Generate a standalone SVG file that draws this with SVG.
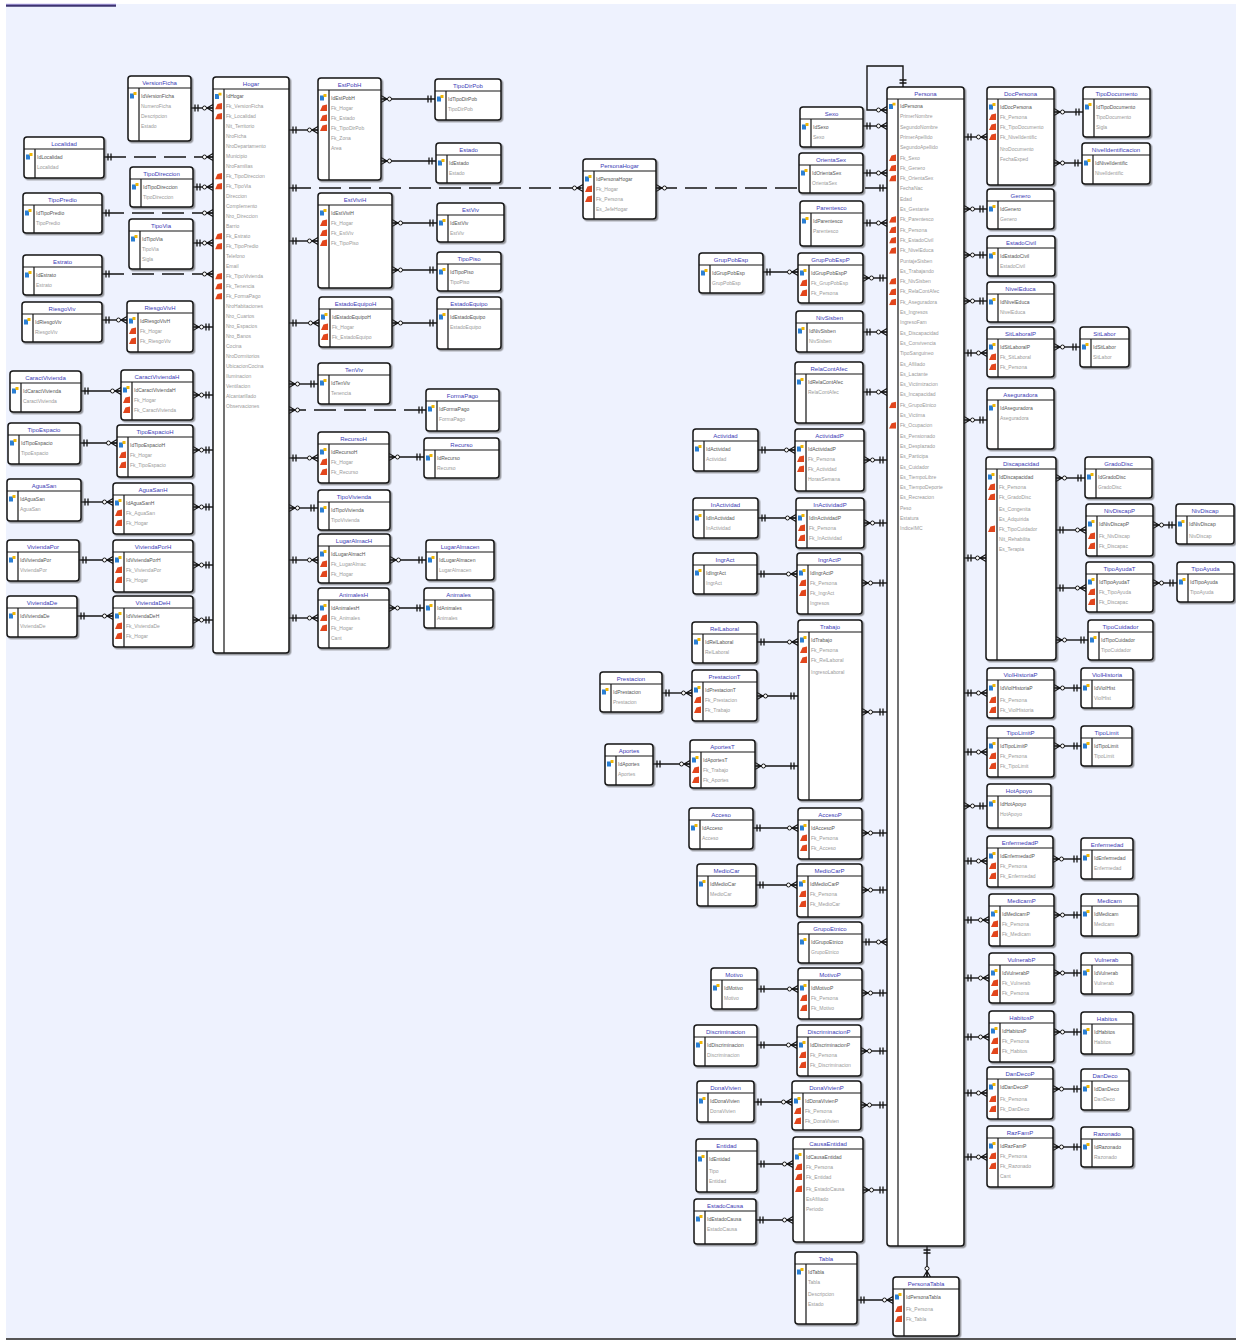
<svg xmlns="http://www.w3.org/2000/svg" xmlns:xlink="http://www.w3.org/1999/xlink" width="1236" height="1342" viewBox="0 0 1236 1342">
<defs>
<style>
.bx{fill:#fff;stroke:#151515;stroke-width:1.5;filter:url(#sh)}
.ln{stroke:#151515;stroke-width:1.2;fill:none}
.tt{font-family:"Liberation Sans",Arial,sans-serif;font-size:6px;fill:#3b3bb5;text-anchor:middle}
.fd{font-family:"Liberation Sans",Arial,sans-serif;font-size:5px;fill:#9a9a9a}
.pkt{font-family:"Liberation Sans",Arial,sans-serif;font-size:5px;fill:#555}
.c{stroke:#151515;stroke-width:1.4;fill:none;marker-start:url(#one);marker-end:url(#many)}
.d{stroke-dasharray:22 8}
</style>
<filter id="sh" x="-10%" y="-10%" width="130%" height="130%"><feDropShadow dx="1.5" dy="1.5" stdDeviation="0.6" flood-color="#444" flood-opacity="0.55"/></filter>
<symbol id="pk" viewBox="0 0 7 7"><rect x="0" y="1.5" width="4" height="5" fill="#2a7fd4"/><rect x="3.5" y="0" width="3" height="3" fill="#f2b705"/></symbol>
<symbol id="fk" viewBox="0 0 7 7"><path d="M0 7L2.5 1.5L7 0.5V7Z" fill="#e2461c"/></symbol>
<marker id="one" viewBox="-14 -5 15 10" refX="0" refY="0" markerWidth="15" markerHeight="10" orient="auto-start-reverse" markerUnits="userSpaceOnUse"><path d="M-4 -3.5V3.5M-7 -3.5V3.5" stroke="#151515" stroke-width="1.3" fill="none"/></marker>
<marker id="many" viewBox="-14 -5 15 10" refX="0" refY="0" markerWidth="15" markerHeight="10" orient="auto" markerUnits="userSpaceOnUse"><path d="M-6 0L0 -3.5M-6 0L0 3.5M-6 0H0" stroke="#151515" stroke-width="1.2" fill="none"/><circle cx="-8.5" cy="0" r="2" fill="#fff" stroke="#151515" stroke-width="1"/></marker>
</defs>
<rect x="0" y="0" width="1236" height="1342" fill="#fff"/>
<rect x="6" y="4" width="1230" height="1334" fill="#eef2fe"/>
<path d="M6 5.5H116" stroke="#3d3470" stroke-width="2.5"/>
<path d="M6 4.2H116" stroke="#a99be6" stroke-width="0.8"/>
<path d="M6 1339H1236" stroke="#555" stroke-width="2"/>

<g id="connectors">
<path class="c" d="M191 108H213"/>
<path class="c d" d="M104 157H213"/>
<path class="c" d="M193 187H213"/>
<path class="c d" d="M102 213H213"/>
<path class="c" d="M193 243H213"/>
<path class="c d" d="M102 274H213"/>
<path class="c" d="M102 320H127"/>
<path class="c" d="M213 327H193"/>
<path class="c" d="M81 391H121"/>
<path class="c" d="M213 395H193"/>
<path class="c" d="M80 443H117"/>
<path class="c" d="M213 450H193"/>
<path class="c" d="M81 502H113"/>
<path class="c" d="M213 507H193"/>
<path class="c" d="M79 560H113"/>
<path class="c" d="M213 565H193"/>
<path class="c" d="M77 616H113"/>
<path class="c" d="M213 620H193"/>
<path class="c" d="M289 130H318"/>
<path class="c" d="M435 99H381"/>
<path class="c" d="M436 161H381"/>
<path class="c d" d="M289 188H583"/>
<path class="c" d="M289 241H318"/>
<path class="c" d="M437 223H392"/>
<path class="c" d="M437 270H392"/>
<path class="c" d="M289 323H319"/>
<path class="c" d="M437 323H392"/>
<path class="c" d="M318 384H289"/>
<path class="c d" d="M426 410H289"/>
<path class="c" d="M289 458H318"/>
<path class="c" d="M424 457H389"/>
<path class="c" d="M318 508H289"/>
<path class="c" d="M289 560H318"/>
<path class="c" d="M426 560H390"/>
<path class="c" d="M289 618H318"/>
<path class="c" d="M424 608H389"/>
<path class="c d" d="M887 188H656"/>
<path class="c" d="M903 87V66H867V110H887"/>
<path class="c" d="M863 126H887"/>
<path class="c" d="M863 173H887"/>
<path class="c" d="M863 223H887"/>
<path class="c" d="M763 272H798"/>
<path class="c" d="M887 278H863"/>
<path class="c" d="M863 332H887"/>
<path class="c" d="M863 392H887"/>
<path class="c" d="M758 450H795"/>
<path class="c" d="M887 460H864"/>
<path class="c" d="M758 518H796"/>
<path class="c" d="M887 523H864"/>
<path class="c" d="M757 574H797"/>
<path class="c" d="M887 583H862"/>
<path class="c" d="M757 642H798"/>
<path class="c" d="M662 693H692"/>
<path class="c" d="M798 696H757"/>
<path class="c" d="M653 764H690"/>
<path class="c" d="M798 766H755"/>
<path class="c" d="M887 712H862"/>
<path class="c" d="M753 828H798"/>
<path class="c" d="M887 833H862"/>
<path class="c" d="M756 885H797"/>
<path class="c" d="M887 890H862"/>
<path class="c" d="M862 942H887"/>
<path class="c" d="M757 989H798"/>
<path class="c" d="M887 993H862"/>
<path class="c" d="M757 1045H797"/>
<path class="c" d="M887 1051H861"/>
<path class="c" d="M754 1102H792"/>
<path class="c" d="M887 1105H861"/>
<path class="c" d="M757 1164H793"/>
<path class="c" d="M756 1220H793"/>
<path class="c" d="M887 1190H863"/>
<path class="c" d="M857 1300H893"/>
<path class="c" d="M927 1246V1277"/>
<path class="c" d="M964 137H987"/>
<path class="c" d="M1083 112H1054"/>
<path class="c" d="M1082 163H1054"/>
<path class="c" d="M987 209H964"/>
<path class="c" d="M987 255H964"/>
<path class="c" d="M987 301H964"/>
<path class="c" d="M964 353H987"/>
<path class="c" d="M1080 347H1054"/>
<path class="c" d="M987 420H964"/>
<path class="c" d="M964 558H986"/>
<path class="c" d="M1085 478H1056"/>
<path class="c" d="M1056 530H1086"/>
<path class="c" d="M1176 525H1153"/>
<path class="c" d="M1056 588H1086"/>
<path class="c" d="M1177 583H1153"/>
<path class="c" d="M1088 640H1056"/>
<path class="c" d="M964 693H987"/>
<path class="c" d="M1081 688H1054"/>
<path class="c" d="M964 752H987"/>
<path class="c" d="M1081 746H1054"/>
<path class="c" d="M987 806H964"/>
<path class="c" d="M964 861H987"/>
<path class="c" d="M1081 859H1053"/>
<path class="c" d="M964 920H989"/>
<path class="c" d="M1081 915H1054"/>
<path class="c" d="M964 978H989"/>
<path class="c" d="M1081 973H1054"/>
<path class="c" d="M964 1037H989"/>
<path class="c" d="M1081 1032H1054"/>
<path class="c" d="M964 1093H987"/>
<path class="c" d="M1081 1089H1053"/>
<path class="c" d="M964 1157H987"/>
<path class="c" d="M1081 1147H1053"/>
</g>

<g id="n-VersionFicha" transform="translate(128,76)"><rect class="bx" width="63" height="65" rx="3"/><path class="ln" d="M0 12H63M11 12V65"/><text class="tt" x="31.5" y="9">VersionFicha</text><use href="#pk" x="2" y="16" width="7" height="7"/><text class="pkt" x="13" y="22">IdVersionFicha</text><text class="fd" x="13" y="32">NumeroFicha</text><text class="fd" x="13" y="42">Descripcion</text><text class="fd" x="13" y="52">Estado</text></g>
<g id="n-Localidad" transform="translate(24,137)"><rect class="bx" width="80" height="41" rx="3"/><path class="ln" d="M0 12H80M11 12V41"/><text class="tt" x="40" y="9">Localidad</text><use href="#pk" x="2" y="16" width="7" height="7"/><text class="pkt" x="13" y="22">IdLocalidad</text><text class="fd" x="13" y="32">Localidad</text></g>
<g id="n-TipoDireccion" transform="translate(130,167)"><rect class="bx" width="63" height="40" rx="3"/><path class="ln" d="M0 12H63M11 12V40"/><text class="tt" x="31.5" y="9">TipoDireccion</text><use href="#pk" x="2" y="16" width="7" height="7"/><text class="pkt" x="13" y="22">IdTipoDireccion</text><text class="fd" x="13" y="32">TipoDireccion</text></g>
<g id="n-TipoPredio" transform="translate(23,193)"><rect class="bx" width="79" height="40" rx="3"/><path class="ln" d="M0 12H79M11 12V40"/><text class="tt" x="39.5" y="9">TipoPredio</text><use href="#pk" x="2" y="16" width="7" height="7"/><text class="pkt" x="13" y="22">IdTipoPredio</text><text class="fd" x="13" y="32">TipoPredio</text></g>
<g id="n-TipoVia" transform="translate(129,219)"><rect class="bx" width="64" height="50" rx="3"/><path class="ln" d="M0 12H64M11 12V50"/><text class="tt" x="32" y="9">TipoVia</text><use href="#pk" x="2" y="16" width="7" height="7"/><text class="pkt" x="13" y="22">IdTipoVia</text><text class="fd" x="13" y="32">TipoVia</text><text class="fd" x="13" y="42">Sigla</text></g>
<g id="n-Estrato" transform="translate(23,255)"><rect class="bx" width="79" height="40" rx="3"/><path class="ln" d="M0 12H79M11 12V40"/><text class="tt" x="39.5" y="9">Estrato</text><use href="#pk" x="2" y="16" width="7" height="7"/><text class="pkt" x="13" y="22">IdEstrato</text><text class="fd" x="13" y="32">Estrato</text></g>
<g id="n-Riesgo" transform="translate(22,302)"><rect class="bx" width="80" height="40" rx="3"/><path class="ln" d="M0 12H80M11 12V40"/><text class="tt" x="40" y="9">RiesgoViv</text><use href="#pk" x="2" y="16" width="7" height="7"/><text class="pkt" x="13" y="22">IdRiesgoViv</text><text class="fd" x="13" y="32">RiesgoViv</text></g>
<g id="n-RiesgoVivH" transform="translate(127,301)"><rect class="bx" width="66" height="51" rx="3"/><path class="ln" d="M0 12H66M11 12V51"/><text class="tt" x="33" y="9">RiesgoVivH</text><use href="#pk" x="2" y="16" width="7" height="7"/><text class="pkt" x="13" y="22">IdRiesgoVivH</text><use href="#fk" x="2" y="26" width="7" height="7"/><text class="fd" x="13" y="32">Fk_Hogar</text><use href="#fk" x="2" y="36" width="7" height="7"/><text class="fd" x="13" y="42">Fk_RiesgoViv</text></g>
<g id="n-CaractVivienda" transform="translate(10,371)"><rect class="bx" width="71" height="41" rx="3"/><path class="ln" d="M0 12H71M11 12V41"/><text class="tt" x="35.5" y="9">CaractVivienda</text><use href="#pk" x="2" y="16" width="7" height="7"/><text class="pkt" x="13" y="22">IdCaractVivienda</text><text class="fd" x="13" y="32">CaractVivienda</text></g>
<g id="n-CaractViviendaH" transform="translate(121,370)"><rect class="bx" width="72" height="50" rx="3"/><path class="ln" d="M0 12H72M11 12V50"/><text class="tt" x="36" y="9">CaractViviendaH</text><use href="#pk" x="2" y="16" width="7" height="7"/><text class="pkt" x="13" y="22">IdCaractViviendaH</text><use href="#fk" x="2" y="26" width="7" height="7"/><text class="fd" x="13" y="32">Fk_Hogar</text><use href="#fk" x="2" y="36" width="7" height="7"/><text class="fd" x="13" y="42">Fk_CaractVivienda</text></g>
<g id="n-TipoEspacio" transform="translate(8,423)"><rect class="bx" width="72" height="41" rx="3"/><path class="ln" d="M0 12H72M11 12V41"/><text class="tt" x="36" y="9">TipoEspacio</text><use href="#pk" x="2" y="16" width="7" height="7"/><text class="pkt" x="13" y="22">IdTipoEspacio</text><text class="fd" x="13" y="32">TipoEspacio</text></g>
<g id="n-TipoEspacioH" transform="translate(117,425)"><rect class="bx" width="76" height="52" rx="3"/><path class="ln" d="M0 12H76M11 12V52"/><text class="tt" x="38" y="9">TipoEspacioH</text><use href="#pk" x="2" y="16" width="7" height="7"/><text class="pkt" x="13" y="22">IdTipoEspacioH</text><use href="#fk" x="2" y="26" width="7" height="7"/><text class="fd" x="13" y="32">Fk_Hogar</text><use href="#fk" x="2" y="36" width="7" height="7"/><text class="fd" x="13" y="42">Fk_TipoEspacio</text></g>
<g id="n-AguaSan" transform="translate(7,479)"><rect class="bx" width="74" height="42" rx="3"/><path class="ln" d="M0 12H74M11 12V42"/><text class="tt" x="37" y="9">AguaSan</text><use href="#pk" x="2" y="16" width="7" height="7"/><text class="pkt" x="13" y="22">IdAguaSan</text><text class="fd" x="13" y="32">AguaSan</text></g>
<g id="n-AguaSanH" transform="translate(113,483)"><rect class="bx" width="80" height="51" rx="3"/><path class="ln" d="M0 12H80M11 12V51"/><text class="tt" x="40" y="9">AguaSanH</text><use href="#pk" x="2" y="16" width="7" height="7"/><text class="pkt" x="13" y="22">IdAguaSanH</text><use href="#fk" x="2" y="26" width="7" height="7"/><text class="fd" x="13" y="32">Fk_AguaSan</text><use href="#fk" x="2" y="36" width="7" height="7"/><text class="fd" x="13" y="42">Fk_Hogar</text></g>
<g id="n-ViviendaPor" transform="translate(7,540)"><rect class="bx" width="72" height="41" rx="3"/><path class="ln" d="M0 12H72M11 12V41"/><text class="tt" x="36" y="9">ViviendaPor</text><use href="#pk" x="2" y="16" width="7" height="7"/><text class="pkt" x="13" y="22">IdViviendaPor</text><text class="fd" x="13" y="32">ViviendaPor</text></g>
<g id="n-ViviendaPorH" transform="translate(113,540)"><rect class="bx" width="80" height="52" rx="3"/><path class="ln" d="M0 12H80M11 12V52"/><text class="tt" x="40" y="9">ViviendaPorH</text><use href="#pk" x="2" y="16" width="7" height="7"/><text class="pkt" x="13" y="22">IdViviendaPorH</text><use href="#fk" x="2" y="26" width="7" height="7"/><text class="fd" x="13" y="32">Fk_ViviendaPor</text><use href="#fk" x="2" y="36" width="7" height="7"/><text class="fd" x="13" y="42">Fk_Hogar</text></g>
<g id="n-ViviendaDe" transform="translate(7,596)"><rect class="bx" width="70" height="41" rx="3"/><path class="ln" d="M0 12H70M11 12V41"/><text class="tt" x="35" y="9">ViviendaDe</text><use href="#pk" x="2" y="16" width="7" height="7"/><text class="pkt" x="13" y="22">IdViviendaDe</text><text class="fd" x="13" y="32">ViviendaDe</text></g>
<g id="n-ViviendaDeH" transform="translate(113,596)"><rect class="bx" width="80" height="51" rx="3"/><path class="ln" d="M0 12H80M11 12V51"/><text class="tt" x="40" y="9">ViviendaDeH</text><use href="#pk" x="2" y="16" width="7" height="7"/><text class="pkt" x="13" y="22">IdViviendaDeH</text><use href="#fk" x="2" y="26" width="7" height="7"/><text class="fd" x="13" y="32">Fk_ViviendaDe</text><use href="#fk" x="2" y="36" width="7" height="7"/><text class="fd" x="13" y="42">Fk_Hogar</text></g>

<g id="n-Hogar" transform="translate(213,77)"><rect class="bx" width="76" height="576" rx="3"/><path class="ln" d="M0 12H76M11 12V576"/><text class="tt" x="38" y="9">Hogar</text>
<use href="#pk" x="2" y="15.5" width="7" height="7"/><text class="pkt" x="13" y="21">IdHogar</text>
<use href="#fk" x="2" y="25.5" width="7" height="7"/><text class="fd" x="13" y="31">Fk_VersionFicha</text>
<use href="#fk" x="2" y="35.5" width="7" height="7"/><text class="fd" x="13" y="41">Fk_Localidad</text>
<text class="fd" x="13" y="51">Nit_Territorio</text>
<text class="fd" x="13" y="61">NroFicha</text>
<text class="fd" x="13" y="71">NroDepartamento</text>
<text class="fd" x="13" y="81">Municipio</text>
<text class="fd" x="13" y="91">NroFamilias</text>
<use href="#fk" x="2" y="95.5" width="7" height="7"/><text class="fd" x="13" y="101">Fk_TipoDireccion</text>
<use href="#fk" x="2" y="105.5" width="7" height="7"/><text class="fd" x="13" y="111">Fk_TipoVia</text>
<text class="fd" x="13" y="121">Direccion</text>
<text class="fd" x="13" y="131">Complemento</text>
<text class="fd" x="13" y="141">Nro_Direccion</text>
<text class="fd" x="13" y="151">Barrio</text>
<use href="#fk" x="2" y="155.5" width="7" height="7"/><text class="fd" x="13" y="161">Fk_Estrato</text>
<use href="#fk" x="2" y="165.5" width="7" height="7"/><text class="fd" x="13" y="171">Fk_TipoPredio</text>
<text class="fd" x="13" y="181">Telefono</text>
<text class="fd" x="13" y="191">Email</text>
<use href="#fk" x="2" y="195.5" width="7" height="7"/><text class="fd" x="13" y="201">Fk_TipoVivienda</text>
<use href="#fk" x="2" y="205.5" width="7" height="7"/><text class="fd" x="13" y="211">Fk_Tenencia</text>
<use href="#fk" x="2" y="215.5" width="7" height="7"/><text class="fd" x="13" y="221">Fk_FormaPago</text>
<text class="fd" x="13" y="231">NroHabitaciones</text>
<text class="fd" x="13" y="241">Nro_Cuartos</text>
<text class="fd" x="13" y="251">Nro_Espacios</text>
<text class="fd" x="13" y="261">Nro_Banos</text>
<text class="fd" x="13" y="271">Cocina</text>
<text class="fd" x="13" y="281">NroDormitorios</text>
<text class="fd" x="13" y="291">UbicacionCocina</text>
<text class="fd" x="13" y="301">Iluminacion</text>
<text class="fd" x="13" y="311">Ventilacion</text>
<text class="fd" x="13" y="321">Alcantarillado</text>
<text class="fd" x="13" y="331">Observaciones</text></g>

<g id="n-EstPobH" transform="translate(318,78)"><rect class="bx" width="63" height="102" rx="3"/><path class="ln" d="M0 12H63M11 12V102"/><text class="tt" x="31.5" y="9">EstPobH</text><use href="#pk" x="2" y="16" width="7" height="7"/><text class="pkt" x="13" y="22">IdEstPobH</text><use href="#fk" x="2" y="26" width="7" height="7"/><text class="fd" x="13" y="32">Fk_Hogar</text><use href="#fk" x="2" y="36" width="7" height="7"/><text class="fd" x="13" y="42">Fk_Estado</text><use href="#fk" x="2" y="46" width="7" height="7"/><text class="fd" x="13" y="52">Fk_TipoDirPob</text><text class="fd" x="13" y="62">Fk_Zona</text><text class="fd" x="13" y="72">Area</text></g>
<g id="n-TipoDirPob" transform="translate(435,79)"><rect class="bx" width="66" height="41" rx="3"/><path class="ln" d="M0 12H66M11 12V41"/><text class="tt" x="33" y="9">TipoDirPob</text><use href="#pk" x="2" y="16" width="7" height="7"/><text class="pkt" x="13" y="22">IdTipoDirPob</text><text class="fd" x="13" y="32">TipoDirPob</text></g>
<g id="n-Estado" transform="translate(436,143)"><rect class="bx" width="65" height="40" rx="3"/><path class="ln" d="M0 12H65M11 12V40"/><text class="tt" x="32.5" y="9">Estado</text><use href="#pk" x="2" y="16" width="7" height="7"/><text class="pkt" x="13" y="22">IdEstado</text><text class="fd" x="13" y="32">Estado</text></g>
<g id="n-EstViviH" transform="translate(318,193)"><rect class="bx" width="74" height="95" rx="3"/><path class="ln" d="M0 12H74M11 12V95"/><text class="tt" x="37" y="9">EstViviH</text><use href="#pk" x="2" y="16" width="7" height="7"/><text class="pkt" x="13" y="22">IdEstViviH</text><use href="#fk" x="2" y="26" width="7" height="7"/><text class="fd" x="13" y="32">Fk_Hogar</text><use href="#fk" x="2" y="36" width="7" height="7"/><text class="fd" x="13" y="42">Fk_EstViv</text><use href="#fk" x="2" y="46" width="7" height="7"/><text class="fd" x="13" y="52">Fk_TipoPiso</text></g>
<g id="n-EstViv" transform="translate(437,203)"><rect class="bx" width="67" height="39" rx="3"/><path class="ln" d="M0 12H67M11 12V39"/><text class="tt" x="33.5" y="9">EstViv</text><use href="#pk" x="2" y="16" width="7" height="7"/><text class="pkt" x="13" y="22">IdEstViv</text><text class="fd" x="13" y="32">EstViv</text></g>
<g id="n-TipoPiso" transform="translate(437,252)"><rect class="bx" width="64" height="39" rx="3"/><path class="ln" d="M0 12H64M11 12V39"/><text class="tt" x="32" y="9">TipoPiso</text><use href="#pk" x="2" y="16" width="7" height="7"/><text class="pkt" x="13" y="22">IdTipoPiso</text><text class="fd" x="13" y="32">TipoPiso</text></g>
<g id="n-EstadoEquipoH" transform="translate(319,297)"><rect class="bx" width="73" height="50" rx="3"/><path class="ln" d="M0 12H73M11 12V50"/><text class="tt" x="36.5" y="9">EstadoEquipoH</text><use href="#pk" x="2" y="16" width="7" height="7"/><text class="pkt" x="13" y="22">IdEstadoEquipoH</text><use href="#fk" x="2" y="26" width="7" height="7"/><text class="fd" x="13" y="32">Fk_Hogar</text><use href="#fk" x="2" y="36" width="7" height="7"/><text class="fd" x="13" y="42">Fk_EstadoEquipo</text></g>
<g id="n-EstadoEquipo" transform="translate(437,297)"><rect class="bx" width="64" height="52" rx="3"/><path class="ln" d="M0 12H64M11 12V52"/><text class="tt" x="32" y="9">EstadoEquipo</text><use href="#pk" x="2" y="16" width="7" height="7"/><text class="pkt" x="13" y="22">IdEstadoEquipo</text><text class="fd" x="13" y="32">EstadoEquipo</text></g>
<g id="n-TenViv" transform="translate(318,363)"><rect class="bx" width="72" height="41" rx="3"/><path class="ln" d="M0 12H72M11 12V41"/><text class="tt" x="36" y="9">TenViv</text><use href="#pk" x="2" y="16" width="7" height="7"/><text class="pkt" x="13" y="22">IdTenViv</text><text class="fd" x="13" y="32">Tenencia</text></g>
<g id="n-FormaPago" transform="translate(426,389)"><rect class="bx" width="73" height="42" rx="3"/><path class="ln" d="M0 12H73M11 12V42"/><text class="tt" x="36.5" y="9">FormaPago</text><use href="#pk" x="2" y="16" width="7" height="7"/><text class="pkt" x="13" y="22">IdFormaPago</text><text class="fd" x="13" y="32">FormaPago</text></g>
<g id="n-RecursoH" transform="translate(318,432)"><rect class="bx" width="71" height="51" rx="3"/><path class="ln" d="M0 12H71M11 12V51"/><text class="tt" x="35.5" y="9">RecursoH</text><use href="#pk" x="2" y="16" width="7" height="7"/><text class="pkt" x="13" y="22">IdRecursoH</text><use href="#fk" x="2" y="26" width="7" height="7"/><text class="fd" x="13" y="32">Fk_Hogar</text><use href="#fk" x="2" y="36" width="7" height="7"/><text class="fd" x="13" y="42">Fk_Recurso</text></g>
<g id="n-Recurso" transform="translate(424,438)"><rect class="bx" width="75" height="40" rx="3"/><path class="ln" d="M0 12H75M11 12V40"/><text class="tt" x="37.5" y="9">Recurso</text><use href="#pk" x="2" y="16" width="7" height="7"/><text class="pkt" x="13" y="22">IdRecurso</text><text class="fd" x="13" y="32">Recurso</text></g>
<g id="n-TipoVivienda" transform="translate(318,490)"><rect class="bx" width="72" height="40" rx="3"/><path class="ln" d="M0 12H72M11 12V40"/><text class="tt" x="36" y="9">TipoVivienda</text><use href="#pk" x="2" y="16" width="7" height="7"/><text class="pkt" x="13" y="22">IdTipoVivienda</text><text class="fd" x="13" y="32">TipoVivienda</text></g>
<g id="n-LugarAlmacH" transform="translate(318,534)"><rect class="bx" width="72" height="49" rx="3"/><path class="ln" d="M0 12H72M11 12V49"/><text class="tt" x="36" y="9">LugarAlmacH</text><use href="#pk" x="2" y="16" width="7" height="7"/><text class="pkt" x="13" y="22">IdLugarAlmacH</text><use href="#fk" x="2" y="26" width="7" height="7"/><text class="fd" x="13" y="32">Fk_LugarAlmac</text><use href="#fk" x="2" y="36" width="7" height="7"/><text class="fd" x="13" y="42">Fk_Hogar</text></g>
<g id="n-LugarAlmac" transform="translate(426,540)"><rect class="bx" width="68" height="40" rx="3"/><path class="ln" d="M0 12H68M11 12V40"/><text class="tt" x="34" y="9">LugarAlmacen</text><use href="#pk" x="2" y="16" width="7" height="7"/><text class="pkt" x="13" y="22">IdLugarAlmacen</text><text class="fd" x="13" y="32">LugarAlmacen</text></g>
<g id="n-AnimalesH" transform="translate(318,588)"><rect class="bx" width="71" height="60" rx="3"/><path class="ln" d="M0 12H71M11 12V60"/><text class="tt" x="35.5" y="9">AnimalesH</text><use href="#pk" x="2" y="16" width="7" height="7"/><text class="pkt" x="13" y="22">IdAnimalesH</text><use href="#fk" x="2" y="26" width="7" height="7"/><text class="fd" x="13" y="32">Fk_Animales</text><use href="#fk" x="2" y="36" width="7" height="7"/><text class="fd" x="13" y="42">Fk_Hogar</text><text class="fd" x="13" y="52">Cant</text></g>
<g id="n-Animales" transform="translate(424,588)"><rect class="bx" width="69" height="40" rx="3"/><path class="ln" d="M0 12H69M11 12V40"/><text class="tt" x="34.5" y="9">Animales</text><use href="#pk" x="2" y="16" width="7" height="7"/><text class="pkt" x="13" y="22">IdAnimales</text><text class="fd" x="13" y="32">Animales</text></g>

<g id="n-PersonaHogar" transform="translate(583,159)"><rect class="bx" width="73" height="60" rx="3"/><path class="ln" d="M0 12H73M11 12V60"/><text class="tt" x="36.5" y="9">PersonaHogar</text><use href="#pk" x="2" y="16" width="7" height="7"/><text class="pkt" x="13" y="22">IdPersonaHogar</text><use href="#fk" x="2" y="26" width="7" height="7"/><text class="fd" x="13" y="32">Fk_Hogar</text><use href="#fk" x="2" y="36" width="7" height="7"/><text class="fd" x="13" y="42">Fk_Persona</text><text class="fd" x="13" y="52">Es_JefeHogar</text></g>

<g id="n-Sexo" transform="translate(800,107)"><rect class="bx" width="63" height="40" rx="3"/><path class="ln" d="M0 12H63M11 12V40"/><text class="tt" x="31.5" y="9">Sexo</text><use href="#pk" x="2" y="16" width="7" height="7"/><text class="pkt" x="13" y="22">IdSexo</text><text class="fd" x="13" y="32">Sexo</text></g>
<g id="n-OrientaSex" transform="translate(799,153)"><rect class="bx" width="64" height="40" rx="3"/><path class="ln" d="M0 12H64M11 12V40"/><text class="tt" x="32" y="9">OrientaSex</text><use href="#pk" x="2" y="16" width="7" height="7"/><text class="pkt" x="13" y="22">IdOrientaSex</text><text class="fd" x="13" y="32">OrientaSex</text></g>
<g id="n-Parentesco" transform="translate(800,201)"><rect class="bx" width="63" height="45" rx="3"/><path class="ln" d="M0 12H63M11 12V45"/><text class="tt" x="31.5" y="9">Parentesco</text><use href="#pk" x="2" y="16" width="7" height="7"/><text class="pkt" x="13" y="22">IdParentesco</text><text class="fd" x="13" y="32">Parentesco</text></g>
<g id="n-GrupPobEsp" transform="translate(699,253)"><rect class="bx" width="64" height="40" rx="3"/><path class="ln" d="M0 12H64M11 12V40"/><text class="tt" x="32" y="9">GrupPobEsp</text><use href="#pk" x="2" y="16" width="7" height="7"/><text class="pkt" x="13" y="22">IdGrupPobEsp</text><text class="fd" x="13" y="32">GrupPobEsp</text></g>
<g id="n-GrupPobEspP" transform="translate(798,253)"><rect class="bx" width="65" height="50" rx="3"/><path class="ln" d="M0 12H65M11 12V50"/><text class="tt" x="32.5" y="9">GrupPobEspP</text><use href="#pk" x="2" y="16" width="7" height="7"/><text class="pkt" x="13" y="22">IdGrupPobEspP</text><use href="#fk" x="2" y="26" width="7" height="7"/><text class="fd" x="13" y="32">Fk_GrupPobEsp</text><use href="#fk" x="2" y="36" width="7" height="7"/><text class="fd" x="13" y="42">Fk_Persona</text></g>
<g id="n-NivSisben" transform="translate(796,311)"><rect class="bx" width="67" height="41" rx="3"/><path class="ln" d="M0 12H67M11 12V41"/><text class="tt" x="33.5" y="9">NivSisben</text><use href="#pk" x="2" y="16" width="7" height="7"/><text class="pkt" x="13" y="22">IdNivSisben</text><text class="fd" x="13" y="32">NivSisben</text></g>
<g id="n-RelaContAfec" transform="translate(795,362)"><rect class="bx" width="68" height="61" rx="3"/><path class="ln" d="M0 12H68M11 12V61"/><text class="tt" x="34" y="9">RelaContAfec</text><use href="#pk" x="2" y="16" width="7" height="7"/><text class="pkt" x="13" y="22">IdRelaContAfec</text><text class="fd" x="13" y="32">RelaContAfec</text></g>
<g id="n-Actividad" transform="translate(693,429)"><rect class="bx" width="65" height="42" rx="3"/><path class="ln" d="M0 12H65M11 12V42"/><text class="tt" x="32.5" y="9">Actividad</text><use href="#pk" x="2" y="16" width="7" height="7"/><text class="pkt" x="13" y="22">IdActividad</text><text class="fd" x="13" y="32">Actividad</text></g>
<g id="n-ActividadP" transform="translate(795,429)"><rect class="bx" width="69" height="62" rx="3"/><path class="ln" d="M0 12H69M11 12V62"/><text class="tt" x="34.5" y="9">ActividadP</text><use href="#pk" x="2" y="16" width="7" height="7"/><text class="pkt" x="13" y="22">IdActividadP</text><use href="#fk" x="2" y="26" width="7" height="7"/><text class="fd" x="13" y="32">Fk_Persona</text><use href="#fk" x="2" y="36" width="7" height="7"/><text class="fd" x="13" y="42">Fk_Actividad</text><text class="fd" x="13" y="52">HorasSemana</text></g>
<g id="n-InActividad" transform="translate(693,498)"><rect class="bx" width="65" height="40" rx="3"/><path class="ln" d="M0 12H65M11 12V40"/><text class="tt" x="32.5" y="9">InActividad</text><use href="#pk" x="2" y="16" width="7" height="7"/><text class="pkt" x="13" y="22">IdInActividad</text><text class="fd" x="13" y="32">InActividad</text></g>
<g id="n-InActividadP" transform="translate(796,498)"><rect class="bx" width="68" height="50" rx="3"/><path class="ln" d="M0 12H68M11 12V50"/><text class="tt" x="34" y="9">InActividadP</text><use href="#pk" x="2" y="16" width="7" height="7"/><text class="pkt" x="13" y="22">IdInActividadP</text><use href="#fk" x="2" y="26" width="7" height="7"/><text class="fd" x="13" y="32">Fk_Persona</text><use href="#fk" x="2" y="36" width="7" height="7"/><text class="fd" x="13" y="42">Fk_InActividad</text></g>
<g id="n-IngrAct" transform="translate(693,553)"><rect class="bx" width="64" height="41" rx="3"/><path class="ln" d="M0 12H64M11 12V41"/><text class="tt" x="32" y="9">IngrAct</text><use href="#pk" x="2" y="16" width="7" height="7"/><text class="pkt" x="13" y="22">IdIngrAct</text><text class="fd" x="13" y="32">IngrAct</text></g>
<g id="n-IngrActP" transform="translate(797,553)"><rect class="bx" width="65" height="61" rx="3"/><path class="ln" d="M0 12H65M11 12V61"/><text class="tt" x="32.5" y="9">IngrActP</text><use href="#pk" x="2" y="16" width="7" height="7"/><text class="pkt" x="13" y="22">IdIngrActP</text><use href="#fk" x="2" y="26" width="7" height="7"/><text class="fd" x="13" y="32">Fk_Persona</text><use href="#fk" x="2" y="36" width="7" height="7"/><text class="fd" x="13" y="42">Fk_IngrAct</text><text class="fd" x="13" y="52">Ingresos</text></g>
<g id="n-RelLaboral" transform="translate(692,622)"><rect class="bx" width="65" height="41" rx="3"/><path class="ln" d="M0 12H65M11 12V41"/><text class="tt" x="32.5" y="9">RelLaboral</text><use href="#pk" x="2" y="16" width="7" height="7"/><text class="pkt" x="13" y="22">IdRelLaboral</text><text class="fd" x="13" y="32">RelLaboral</text></g>
<g id="n-Trabajo" transform="translate(798,620)"><rect class="bx" width="64" height="180" rx="3"/><path class="ln" d="M0 12H64M11 12V180"/><text class="tt" x="32" y="9">Trabajo</text><use href="#pk" x="2" y="16" width="7" height="7"/><text class="pkt" x="13" y="22">IdTrabajo</text><use href="#fk" x="2" y="26" width="7" height="7"/><text class="fd" x="13" y="32">Fk_Persona</text><use href="#fk" x="2" y="36" width="7" height="7"/><text class="fd" x="13" y="42">Fk_RelLaboral</text><text class="fd" x="13" y="54">IngresoLaboral</text></g>
<g id="n-Prestacion" transform="translate(600,672)"><rect class="bx" width="62" height="40" rx="3"/><path class="ln" d="M0 12H62M11 12V40"/><text class="tt" x="31" y="9">Prestacion</text><use href="#pk" x="2" y="16" width="7" height="7"/><text class="pkt" x="13" y="22">IdPrestacion</text><text class="fd" x="13" y="32">Prestacion</text></g>
<g id="n-PrestacionT" transform="translate(692,670)"><rect class="bx" width="65" height="51" rx="3"/><path class="ln" d="M0 12H65M11 12V51"/><text class="tt" x="32.5" y="9">PrestacionT</text><use href="#pk" x="2" y="16" width="7" height="7"/><text class="pkt" x="13" y="22">IdPrestacionT</text><use href="#fk" x="2" y="26" width="7" height="7"/><text class="fd" x="13" y="32">Fk_Prestacion</text><use href="#fk" x="2" y="36" width="7" height="7"/><text class="fd" x="13" y="42">Fk_Trabajo</text></g>
<g id="n-Aportes" transform="translate(605,744)"><rect class="bx" width="48" height="41" rx="3"/><path class="ln" d="M0 12H48M11 12V41"/><text class="tt" x="24" y="9">Aportes</text><use href="#pk" x="2" y="16" width="7" height="7"/><text class="pkt" x="13" y="22">IdAportes</text><text class="fd" x="13" y="32">Aportes</text></g>
<g id="n-AportesT" transform="translate(690,740)"><rect class="bx" width="65" height="48" rx="3"/><path class="ln" d="M0 12H65M11 12V48"/><text class="tt" x="32.5" y="9">AportesT</text><use href="#pk" x="2" y="16" width="7" height="7"/><text class="pkt" x="13" y="22">IdAportesT</text><use href="#fk" x="2" y="26" width="7" height="7"/><text class="fd" x="13" y="32">Fk_Trabajo</text><use href="#fk" x="2" y="36" width="7" height="7"/><text class="fd" x="13" y="42">Fk_Aportes</text></g>
<g id="n-Acceso" transform="translate(689,808)"><rect class="bx" width="64" height="41" rx="3"/><path class="ln" d="M0 12H64M11 12V41"/><text class="tt" x="32" y="9">Acceso</text><use href="#pk" x="2" y="16" width="7" height="7"/><text class="pkt" x="13" y="22">IdAcceso</text><text class="fd" x="13" y="32">Acceso</text></g>
<g id="n-AccesoP" transform="translate(798,808)"><rect class="bx" width="64" height="51" rx="3"/><path class="ln" d="M0 12H64M11 12V51"/><text class="tt" x="32" y="9">AccesoP</text><use href="#pk" x="2" y="16" width="7" height="7"/><text class="pkt" x="13" y="22">IdAccesoP</text><use href="#fk" x="2" y="26" width="7" height="7"/><text class="fd" x="13" y="32">Fk_Persona</text><use href="#fk" x="2" y="36" width="7" height="7"/><text class="fd" x="13" y="42">Fk_Acceso</text></g>
<g id="n-MedioCar" transform="translate(697,864)"><rect class="bx" width="59" height="42" rx="3"/><path class="ln" d="M0 12H59M11 12V42"/><text class="tt" x="29.5" y="9">MedioCar</text><use href="#pk" x="2" y="16" width="7" height="7"/><text class="pkt" x="13" y="22">IdMedioCar</text><text class="fd" x="13" y="32">MedioCar</text></g>
<g id="n-MedioCarP" transform="translate(797,864)"><rect class="bx" width="65" height="53" rx="3"/><path class="ln" d="M0 12H65M11 12V53"/><text class="tt" x="32.5" y="9">MedioCarP</text><use href="#pk" x="2" y="16" width="7" height="7"/><text class="pkt" x="13" y="22">IdMedioCarP</text><use href="#fk" x="2" y="26" width="7" height="7"/><text class="fd" x="13" y="32">Fk_Persona</text><use href="#fk" x="2" y="36" width="7" height="7"/><text class="fd" x="13" y="42">Fk_MedioCar</text></g>
<g id="n-GrupoEtnico" transform="translate(798,922)"><rect class="bx" width="64" height="41" rx="3"/><path class="ln" d="M0 12H64M11 12V41"/><text class="tt" x="32" y="9">GrupoEtnico</text><use href="#pk" x="2" y="16" width="7" height="7"/><text class="pkt" x="13" y="22">IdGrupoEtnico</text><text class="fd" x="13" y="32">GrupoEtnico</text></g>
<g id="n-Motivo" transform="translate(711,968)"><rect class="bx" width="46" height="41" rx="3"/><path class="ln" d="M0 12H46M11 12V41"/><text class="tt" x="23" y="9">Motivo</text><use href="#pk" x="2" y="16" width="7" height="7"/><text class="pkt" x="13" y="22">IdMotivo</text><text class="fd" x="13" y="32">Motivo</text></g>
<g id="n-MotivoP" transform="translate(798,968)"><rect class="bx" width="64" height="51" rx="3"/><path class="ln" d="M0 12H64M11 12V51"/><text class="tt" x="32" y="9">MotivoP</text><use href="#pk" x="2" y="16" width="7" height="7"/><text class="pkt" x="13" y="22">IdMotivoP</text><use href="#fk" x="2" y="26" width="7" height="7"/><text class="fd" x="13" y="32">Fk_Persona</text><use href="#fk" x="2" y="36" width="7" height="7"/><text class="fd" x="13" y="42">Fk_Motivo</text></g>
<g id="n-Discriminacion" transform="translate(694,1025)"><rect class="bx" width="63" height="41" rx="3"/><path class="ln" d="M0 12H63M11 12V41"/><text class="tt" x="31.5" y="9">Discriminacion</text><use href="#pk" x="2" y="16" width="7" height="7"/><text class="pkt" x="13" y="22">IdDiscriminacion</text><text class="fd" x="13" y="32">Discriminacion</text></g>
<g id="n-DiscriminacionP" transform="translate(797,1025)"><rect class="bx" width="64" height="51" rx="3"/><path class="ln" d="M0 12H64M11 12V51"/><text class="tt" x="32" y="9">DiscriminacionP</text><use href="#pk" x="2" y="16" width="7" height="7"/><text class="pkt" x="13" y="22">IdDiscriminacionP</text><use href="#fk" x="2" y="26" width="7" height="7"/><text class="fd" x="13" y="32">Fk_Persona</text><use href="#fk" x="2" y="36" width="7" height="7"/><text class="fd" x="13" y="42">Fk_Discriminacion</text></g>
<g id="n-DonaVivien" transform="translate(697,1081)"><rect class="bx" width="57" height="41" rx="3"/><path class="ln" d="M0 12H57M11 12V41"/><text class="tt" x="28.5" y="9">DonaVivien</text><use href="#pk" x="2" y="16" width="7" height="7"/><text class="pkt" x="13" y="22">IdDonaVivien</text><text class="fd" x="13" y="32">DonaVivien</text></g>
<g id="n-DonaVivienP" transform="translate(792,1081)"><rect class="bx" width="69" height="49" rx="3"/><path class="ln" d="M0 12H69M11 12V49"/><text class="tt" x="34.5" y="9">DonaVivienP</text><use href="#pk" x="2" y="16" width="7" height="7"/><text class="pkt" x="13" y="22">IdDonaVivienP</text><use href="#fk" x="2" y="26" width="7" height="7"/><text class="fd" x="13" y="32">Fk_Persona</text><use href="#fk" x="2" y="36" width="7" height="7"/><text class="fd" x="13" y="42">Fk_DonaVivien</text></g>
<g id="n-Entidad" transform="translate(696,1139)"><rect class="bx" width="61" height="53" rx="3"/><path class="ln" d="M0 12H61M11 12V53"/><text class="tt" x="30.5" y="9">Entidad</text><use href="#pk" x="2" y="16" width="7" height="7"/><text class="pkt" x="13" y="22">IdEntidad</text><text class="fd" x="13" y="34">Tipo</text><text class="fd" x="13" y="44">Entidad</text></g>
<g id="n-CausaEntidad" transform="translate(793,1137)"><rect class="bx" width="70" height="105" rx="3"/><path class="ln" d="M0 12H70M11 12V105"/><text class="tt" x="35" y="9">CausaEntidad</text><use href="#pk" x="2" y="16" width="7" height="7"/><text class="pkt" x="13" y="22">IdCausaEntidad</text><use href="#fk" x="2" y="26" width="7" height="7"/><text class="fd" x="13" y="32">Fk_Persona</text><use href="#fk" x="2" y="36" width="7" height="7"/><text class="fd" x="13" y="42">Fk_Entidad</text><use href="#fk" x="2" y="48" width="7" height="7"/><text class="fd" x="13" y="54">Fk_EstadoCausa</text><text class="fd" x="13" y="64">EsAfiliado</text><text class="fd" x="13" y="74">Periodo</text></g>
<g id="n-EstadoCausa" transform="translate(694,1199)"><rect class="bx" width="62" height="45" rx="3"/><path class="ln" d="M0 12H62M11 12V45"/><text class="tt" x="31" y="9">EstadoCausa</text><use href="#pk" x="2" y="16" width="7" height="7"/><text class="pkt" x="13" y="22">IdEstadoCausa</text><text class="fd" x="13" y="32">EstadoCausa</text></g>
<g id="n-Tabla" transform="translate(795,1252)"><rect class="bx" width="62" height="72" rx="3"/><path class="ln" d="M0 12H62M11 12V72"/><text class="tt" x="31" y="9">Tabla</text><use href="#pk" x="2" y="16" width="7" height="7"/><text class="pkt" x="13" y="22">IdTabla</text><text class="fd" x="13" y="32">Tabla</text><text class="fd" x="13" y="44">Descripcion</text><text class="fd" x="13" y="54">Estado</text></g>
<g id="n-PersonaTabla" transform="translate(893,1277)"><rect class="bx" width="66" height="59" rx="3"/><path class="ln" d="M0 12H66M11 12V59"/><text class="tt" x="33" y="9">PersonaTabla</text><use href="#pk" x="2" y="16" width="7" height="7"/><text class="pkt" x="13" y="22">IdPersonaTabla</text><use href="#fk" x="2" y="28" width="7" height="7"/><text class="fd" x="13" y="34">Fk_Persona</text><use href="#fk" x="2" y="38" width="7" height="7"/><text class="fd" x="13" y="44">Fk_Tabla</text></g>

<g id="n-Persona" transform="translate(887,87)"><rect class="bx" width="77" height="1159" rx="3"/><path class="ln" d="M0 12H77M11 12V1159"/><text class="tt" x="38.5" y="9">Persona</text>
<use href="#pk" x="2" y="15.5" width="7" height="7"/><text class="pkt" x="13" y="21">IdPersona</text>
<text class="fd" x="13" y="31.3">PrimerNombre</text>
<text class="fd" x="13" y="41.6">SegundoNombre</text>
<text class="fd" x="13" y="51.9">PrimerApellido</text>
<text class="fd" x="13" y="62.2">SegundoApellido</text>
<use href="#fk" x="2" y="67" width="7" height="7"/><text class="fd" x="13" y="72.5">Fk_Sexo</text>
<use href="#fk" x="2" y="77.3" width="7" height="7"/><text class="fd" x="13" y="82.8">Fk_Genero</text>
<use href="#fk" x="2" y="87.6" width="7" height="7"/><text class="fd" x="13" y="93.1">Fk_OrientaSex</text>
<text class="fd" x="13" y="103.4">FechaNac</text>
<text class="fd" x="13" y="113.7">Edad</text>
<text class="fd" x="13" y="124">Es_Gestante</text>
<use href="#fk" x="2" y="128.8" width="7" height="7"/><text class="fd" x="13" y="134.3">Fk_Parentesco</text>
<use href="#fk" x="2" y="139.1" width="7" height="7"/><text class="fd" x="13" y="144.6">Fk_Persona</text>
<use href="#fk" x="2" y="149.4" width="7" height="7"/><text class="fd" x="13" y="154.9">Fk_EstadoCivil</text>
<use href="#fk" x="2" y="159.7" width="7" height="7"/><text class="fd" x="13" y="165.2">Fk_NivelEduca</text>
<text class="fd" x="13" y="175.5">PuntajeSisben</text>
<text class="fd" x="13" y="185.8">Es_Trabajando</text>
<use href="#fk" x="2" y="190.6" width="7" height="7"/><text class="fd" x="13" y="196.1">Fk_NivSisben</text>
<use href="#fk" x="2" y="200.9" width="7" height="7"/><text class="fd" x="13" y="206.4">Fk_RelaContAfec</text>
<use href="#fk" x="2" y="211.2" width="7" height="7"/><text class="fd" x="13" y="216.7">Fk_Aseguradora</text>
<text class="fd" x="13" y="227">Es_Ingresos</text>
<text class="fd" x="13" y="237.3">IngresoFam</text>
<text class="fd" x="13" y="247.6">Es_Discapacidad</text>
<text class="fd" x="13" y="257.9">Es_Convivencia</text>
<text class="fd" x="13" y="268.2">TipoSanguineo</text>
<text class="fd" x="13" y="278.5">Es_Afiliado</text>
<text class="fd" x="13" y="288.8">Es_Lactante</text>
<text class="fd" x="13" y="299.1">Es_Victimizacion</text>
<text class="fd" x="13" y="309.4">Es_Incapacidad</text>
<use href="#fk" x="2" y="314.2" width="7" height="7"/><text class="fd" x="13" y="319.7">Fk_GrupoEtnico</text>
<text class="fd" x="13" y="330">Es_Victima</text>
<use href="#fk" x="2" y="334.8" width="7" height="7"/><text class="fd" x="13" y="340.3">Fk_Ocupacion</text>
<text class="fd" x="13" y="350.6">Es_Pensionado</text>
<text class="fd" x="13" y="360.9">Es_Desplazado</text>
<text class="fd" x="13" y="371.2">Es_Participa</text>
<text class="fd" x="13" y="381.5">Es_Cuidador</text>
<text class="fd" x="13" y="391.8">Es_TiempoLibre</text>
<text class="fd" x="13" y="402.1">Es_TiempoDeporte</text>
<text class="fd" x="13" y="412.4">Es_Recreacion</text>
<text class="fd" x="13" y="422.7">Peso</text>
<text class="fd" x="13" y="433">Estatura</text>
<text class="fd" x="13" y="443.3">IndiceIMC</text></g>

<g id="n-DocPersona" transform="translate(987,87)"><rect class="bx" width="67" height="98" rx="3"/><path class="ln" d="M0 12H67M11 12V98"/><text class="tt" x="33.5" y="9">DocPersona</text><use href="#pk" x="2" y="16" width="7" height="7"/><text class="pkt" x="13" y="22">IdDocPersona</text><use href="#fk" x="2" y="26" width="7" height="7"/><text class="fd" x="13" y="32">Fk_Persona</text><use href="#fk" x="2" y="36" width="7" height="7"/><text class="fd" x="13" y="42">Fk_TipoDocumento</text><use href="#fk" x="2" y="46" width="7" height="7"/><text class="fd" x="13" y="52">Fk_NivelIdentific</text><text class="fd" x="13" y="64">NroDocumento</text><text class="fd" x="13" y="74">FechaExped</text></g>
<g id="n-TipoDocumento" transform="translate(1083,87)"><rect class="bx" width="67" height="50" rx="3"/><path class="ln" d="M0 12H67M11 12V50"/><text class="tt" x="33.5" y="9">TipoDocumento</text><use href="#pk" x="2" y="16" width="7" height="7"/><text class="pkt" x="13" y="22">IdTipoDocumento</text><text class="fd" x="13" y="32">TipoDocumento</text><text class="fd" x="13" y="42">Sigla</text></g>
<g id="n-NivelIdentificacion" transform="translate(1082,143)"><rect class="bx" width="68" height="41" rx="3"/><path class="ln" d="M0 12H68M11 12V41"/><text class="tt" x="34" y="9">NivelIdentificacion</text><use href="#pk" x="2" y="16" width="7" height="7"/><text class="pkt" x="13" y="22">IdNivelIdentific</text><text class="fd" x="13" y="32">NivelIdentific</text></g>
<g id="n-Genero" transform="translate(987,189)"><rect class="bx" width="67" height="40" rx="3"/><path class="ln" d="M0 12H67M11 12V40"/><text class="tt" x="33.5" y="9">Genero</text><use href="#pk" x="2" y="16" width="7" height="7"/><text class="pkt" x="13" y="22">IdGenero</text><text class="fd" x="13" y="32">Genero</text></g>
<g id="n-EstadoCivil" transform="translate(987,236)"><rect class="bx" width="68" height="40" rx="3"/><path class="ln" d="M0 12H68M11 12V40"/><text class="tt" x="34" y="9">EstadoCivil</text><use href="#pk" x="2" y="16" width="7" height="7"/><text class="pkt" x="13" y="22">IdEstadoCivil</text><text class="fd" x="13" y="32">EstadoCivil</text></g>
<g id="n-NivelEduca" transform="translate(987,282)"><rect class="bx" width="67" height="40" rx="3"/><path class="ln" d="M0 12H67M11 12V40"/><text class="tt" x="33.5" y="9">NivelEduca</text><use href="#pk" x="2" y="16" width="7" height="7"/><text class="pkt" x="13" y="22">IdNivelEduca</text><text class="fd" x="13" y="32">NivelEduca</text></g>
<g id="n-SitLaboralP" transform="translate(987,327)"><rect class="bx" width="67" height="50" rx="3"/><path class="ln" d="M0 12H67M11 12V50"/><text class="tt" x="33.5" y="9">SitLaboralP</text><use href="#pk" x="2" y="16" width="7" height="7"/><text class="pkt" x="13" y="22">IdSitLaboralP</text><use href="#fk" x="2" y="26" width="7" height="7"/><text class="fd" x="13" y="32">Fk_SitLaboral</text><use href="#fk" x="2" y="36" width="7" height="7"/><text class="fd" x="13" y="42">Fk_Persona</text></g>
<g id="n-SitLaboral" transform="translate(1080,327)"><rect class="bx" width="49" height="40" rx="3"/><path class="ln" d="M0 12H49M11 12V40"/><text class="tt" x="24.5" y="9">SitLabor</text><use href="#pk" x="2" y="16" width="7" height="7"/><text class="pkt" x="13" y="22">IdSitLabor</text><text class="fd" x="13" y="32">SitLabor</text></g>
<g id="n-Aseguradora" transform="translate(987,388)"><rect class="bx" width="67" height="61" rx="3"/><path class="ln" d="M0 12H67M11 12V61"/><text class="tt" x="33.5" y="9">Aseguradora</text><use href="#pk" x="2" y="16" width="7" height="7"/><text class="pkt" x="13" y="22">IdAseguradora</text><text class="fd" x="13" y="32">Aseguradora</text></g>
<g id="n-Discapacidad" transform="translate(986,457)"><rect class="bx" width="70" height="203" rx="3"/><path class="ln" d="M0 12H70M11 12V203"/><text class="tt" x="35" y="9">Discapacidad</text><use href="#pk" x="2" y="16" width="7" height="7"/><text class="pkt" x="13" y="22">IdDiscapacidad</text><use href="#fk" x="2" y="26" width="7" height="7"/><text class="fd" x="13" y="32">Fk_Persona</text><use href="#fk" x="2" y="36" width="7" height="7"/><text class="fd" x="13" y="42">Fk_GradoDisc</text><text class="fd" x="13" y="54">Es_Congenita</text><text class="fd" x="13" y="64">Es_Adquirida</text><use href="#fk" x="2" y="68" width="7" height="7"/><text class="fd" x="13" y="74">Fk_TipoCuidador</text><text class="fd" x="13" y="84">Nit_Rehabilita</text><text class="fd" x="13" y="94">Es_Terapia</text></g>
<g id="n-GradoDisc" transform="translate(1085,457)"><rect class="bx" width="67" height="41" rx="3"/><path class="ln" d="M0 12H67M11 12V41"/><text class="tt" x="33.5" y="9">GradoDisc</text><use href="#pk" x="2" y="16" width="7" height="7"/><text class="pkt" x="13" y="22">IdGradoDisc</text><text class="fd" x="13" y="32">GradoDisc</text></g>
<g id="n-NivDiscapP" transform="translate(1086,504)"><rect class="bx" width="67" height="52" rx="3"/><path class="ln" d="M0 12H67M11 12V52"/><text class="tt" x="33.5" y="9">NivDiscapP</text><use href="#pk" x="2" y="16" width="7" height="7"/><text class="pkt" x="13" y="22">IdNivDiscapP</text><use href="#fk" x="2" y="28" width="7" height="7"/><text class="fd" x="13" y="34">Fk_NivDiscap</text><use href="#fk" x="2" y="38" width="7" height="7"/><text class="fd" x="13" y="44">Fk_Discapac</text></g>
<g id="n-NivDiscap" transform="translate(1176,504)"><rect class="bx" width="58" height="40" rx="3"/><path class="ln" d="M0 12H58M11 12V40"/><text class="tt" x="29" y="9">NivDiscap</text><use href="#pk" x="2" y="16" width="7" height="7"/><text class="pkt" x="13" y="22">IdNivDiscap</text><text class="fd" x="13" y="34">NivDiscap</text></g>
<g id="n-TipoAyudaT" transform="translate(1086,562)"><rect class="bx" width="67" height="50" rx="3"/><path class="ln" d="M0 12H67M11 12V50"/><text class="tt" x="33.5" y="9">TipoAyudaT</text><use href="#pk" x="2" y="16" width="7" height="7"/><text class="pkt" x="13" y="22">IdTipoAyudaT</text><use href="#fk" x="2" y="26" width="7" height="7"/><text class="fd" x="13" y="32">Fk_TipoAyuda</text><use href="#fk" x="2" y="36" width="7" height="7"/><text class="fd" x="13" y="42">Fk_Discapac</text></g>
<g id="n-TipoAyuda" transform="translate(1177,562)"><rect class="bx" width="57" height="40" rx="3"/><path class="ln" d="M0 12H57M11 12V40"/><text class="tt" x="28.5" y="9">TipoAyuda</text><use href="#pk" x="2" y="16" width="7" height="7"/><text class="pkt" x="13" y="22">IdTipoAyuda</text><text class="fd" x="13" y="32">TipoAyuda</text></g>
<g id="n-TipoCuidador" transform="translate(1088,620)"><rect class="bx" width="65" height="40" rx="3"/><path class="ln" d="M0 12H65M11 12V40"/><text class="tt" x="32.5" y="9">TipoCuidador</text><use href="#pk" x="2" y="16" width="7" height="7"/><text class="pkt" x="13" y="22">IdTipoCuidador</text><text class="fd" x="13" y="32">TipoCuidador</text></g>
<g id="n-ViolHistoriaP" transform="translate(987,668)"><rect class="bx" width="67" height="50" rx="3"/><path class="ln" d="M0 12H67M11 12V50"/><text class="tt" x="33.5" y="9">ViolHistoriaP</text><use href="#pk" x="2" y="16" width="7" height="7"/><text class="pkt" x="13" y="22">IdViolHistoriaP</text><use href="#fk" x="2" y="28" width="7" height="7"/><text class="fd" x="13" y="34">Fk_Persona</text><use href="#fk" x="2" y="38" width="7" height="7"/><text class="fd" x="13" y="44">Fk_ViolHistoria</text></g>
<g id="n-ViolHistoria" transform="translate(1081,668)"><rect class="bx" width="52" height="40" rx="3"/><path class="ln" d="M0 12H52M11 12V40"/><text class="tt" x="26" y="9">ViolHistoria</text><use href="#pk" x="2" y="16" width="7" height="7"/><text class="pkt" x="13" y="22">IdViolHist</text><text class="fd" x="13" y="32">ViolHist</text></g>
<g id="n-TipoLimitP" transform="translate(987,726)"><rect class="bx" width="67" height="51" rx="3"/><path class="ln" d="M0 12H67M11 12V51"/><text class="tt" x="33.5" y="9">TipoLimitP</text><use href="#pk" x="2" y="16" width="7" height="7"/><text class="pkt" x="13" y="22">IdTipoLimitP</text><use href="#fk" x="2" y="26" width="7" height="7"/><text class="fd" x="13" y="32">Fk_Persona</text><use href="#fk" x="2" y="36" width="7" height="7"/><text class="fd" x="13" y="42">Fk_TipoLimit</text></g>
<g id="n-TipoLimit" transform="translate(1081,726)"><rect class="bx" width="51" height="40" rx="3"/><path class="ln" d="M0 12H51M11 12V40"/><text class="tt" x="25.5" y="9">TipoLimit</text><use href="#pk" x="2" y="16" width="7" height="7"/><text class="pkt" x="13" y="22">IdTipoLimit</text><text class="fd" x="13" y="32">TipoLimit</text></g>
<g id="n-HotApoyo" transform="translate(987,784)"><rect class="bx" width="64" height="44" rx="3"/><path class="ln" d="M0 12H64M11 12V44"/><text class="tt" x="32" y="9">HotApoyo</text><use href="#pk" x="2" y="16" width="7" height="7"/><text class="pkt" x="13" y="22">IdHotApoyo</text><text class="fd" x="13" y="32">HotApoyo</text></g>
<g id="n-EnfermedadP" transform="translate(987,836)"><rect class="bx" width="66" height="51" rx="3"/><path class="ln" d="M0 12H66M11 12V51"/><text class="tt" x="33" y="9">EnfermedadP</text><use href="#pk" x="2" y="16" width="7" height="7"/><text class="pkt" x="13" y="22">IdEnfermedadP</text><use href="#fk" x="2" y="26" width="7" height="7"/><text class="fd" x="13" y="32">Fk_Persona</text><use href="#fk" x="2" y="36" width="7" height="7"/><text class="fd" x="13" y="42">Fk_Enfermedad</text></g>
<g id="n-Enfermedad" transform="translate(1081,838)"><rect class="bx" width="52" height="41" rx="3"/><path class="ln" d="M0 12H52M11 12V41"/><text class="tt" x="26" y="9">Enfermedad</text><use href="#pk" x="2" y="16" width="7" height="7"/><text class="pkt" x="13" y="22">IdEnfermedad</text><text class="fd" x="13" y="32">Enfermedad</text></g>
<g id="n-MedicamP" transform="translate(989,894)"><rect class="bx" width="65" height="52" rx="3"/><path class="ln" d="M0 12H65M11 12V52"/><text class="tt" x="32.5" y="9">MedicamP</text><use href="#pk" x="2" y="16" width="7" height="7"/><text class="pkt" x="13" y="22">IdMedicamP</text><use href="#fk" x="2" y="26" width="7" height="7"/><text class="fd" x="13" y="32">Fk_Persona</text><use href="#fk" x="2" y="36" width="7" height="7"/><text class="fd" x="13" y="42">Fk_Medicam</text></g>
<g id="n-Medicam" transform="translate(1081,894)"><rect class="bx" width="57" height="42" rx="3"/><path class="ln" d="M0 12H57M11 12V42"/><text class="tt" x="28.5" y="9">Medicam</text><use href="#pk" x="2" y="16" width="7" height="7"/><text class="pkt" x="13" y="22">IdMedicam</text><text class="fd" x="13" y="32">Medicam</text></g>
<g id="n-VulnerabP" transform="translate(989,953)"><rect class="bx" width="65" height="50" rx="3"/><path class="ln" d="M0 12H65M11 12V50"/><text class="tt" x="32.5" y="9">VulnerabP</text><use href="#pk" x="2" y="16" width="7" height="7"/><text class="pkt" x="13" y="22">IdVulnerabP</text><use href="#fk" x="2" y="26" width="7" height="7"/><text class="fd" x="13" y="32">Fk_Vulnerab</text><use href="#fk" x="2" y="36" width="7" height="7"/><text class="fd" x="13" y="42">Fk_Persona</text></g>
<g id="n-Vulnerab" transform="translate(1081,953)"><rect class="bx" width="51" height="41" rx="3"/><path class="ln" d="M0 12H51M11 12V41"/><text class="tt" x="25.5" y="9">Vulnerab</text><use href="#pk" x="2" y="16" width="7" height="7"/><text class="pkt" x="13" y="22">IdVulnerab</text><text class="fd" x="13" y="32">Vulnerab</text></g>
<g id="n-HabitosP" transform="translate(989,1011)"><rect class="bx" width="65" height="51" rx="3"/><path class="ln" d="M0 12H65M11 12V51"/><text class="tt" x="32.5" y="9">HabitosP</text><use href="#pk" x="2" y="16" width="7" height="7"/><text class="pkt" x="13" y="22">IdHabitosP</text><use href="#fk" x="2" y="26" width="7" height="7"/><text class="fd" x="13" y="32">Fk_Persona</text><use href="#fk" x="2" y="36" width="7" height="7"/><text class="fd" x="13" y="42">Fk_Habitos</text></g>
<g id="n-Habitos" transform="translate(1081,1012)"><rect class="bx" width="52" height="42" rx="3"/><path class="ln" d="M0 12H52M11 12V42"/><text class="tt" x="26" y="9">Habitos</text><use href="#pk" x="2" y="16" width="7" height="7"/><text class="pkt" x="13" y="22">IdHabitos</text><text class="fd" x="13" y="32">Habitos</text></g>
<g id="n-DanDecoP" transform="translate(987,1067)"><rect class="bx" width="66" height="52" rx="3"/><path class="ln" d="M0 12H66M11 12V52"/><text class="tt" x="33" y="9">DanDecoP</text><use href="#pk" x="2" y="16" width="7" height="7"/><text class="pkt" x="13" y="22">IdDanDecoP</text><use href="#fk" x="2" y="28" width="7" height="7"/><text class="fd" x="13" y="34">Fk_Persona</text><use href="#fk" x="2" y="38" width="7" height="7"/><text class="fd" x="13" y="44">Fk_DanDeco</text></g>
<g id="n-DanDeco" transform="translate(1081,1069)"><rect class="bx" width="48" height="41" rx="3"/><path class="ln" d="M0 12H48M11 12V41"/><text class="tt" x="24" y="9">DanDeco</text><use href="#pk" x="2" y="16" width="7" height="7"/><text class="pkt" x="13" y="22">IdDanDeco</text><text class="fd" x="13" y="32">DanDeco</text></g>
<g id="n-RazFamP" transform="translate(987,1126)"><rect class="bx" width="66" height="61" rx="3"/><path class="ln" d="M0 12H66M11 12V61"/><text class="tt" x="33" y="9">RazFamP</text><use href="#pk" x="2" y="16" width="7" height="7"/><text class="pkt" x="13" y="22">IdRazFamP</text><use href="#fk" x="2" y="26" width="7" height="7"/><text class="fd" x="13" y="32">Fk_Persona</text><use href="#fk" x="2" y="36" width="7" height="7"/><text class="fd" x="13" y="42">Fk_Razonado</text><text class="fd" x="13" y="52">Cant</text></g>
<g id="n-Razonado" transform="translate(1081,1127)"><rect class="bx" width="52" height="40" rx="3"/><path class="ln" d="M0 12H52M11 12V40"/><text class="tt" x="26" y="9">Razonado</text><use href="#pk" x="2" y="16" width="7" height="7"/><text class="pkt" x="13" y="22">IdRazonado</text><text class="fd" x="13" y="32">Razonado</text></g>
</svg>
